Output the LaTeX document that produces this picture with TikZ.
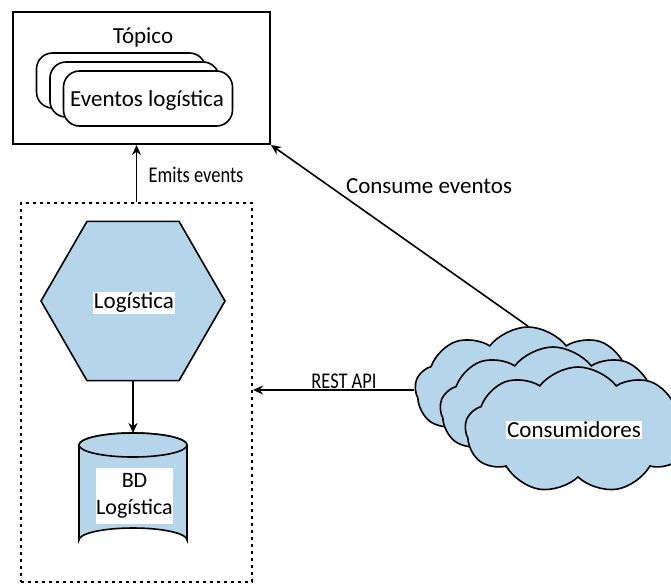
\documentclass[tikz,border=0pt]{standalone}
\usepackage{fontspec}
\setmainfont{Carlito}
\newfontfamily\condfont[FakeStretch=0.82]{Carlito}
\usetikzlibrary{shapes.geometric,shapes.symbols,arrows.meta}
\definecolor{paleblue}{RGB}{180,213,234}
\tikzset{
  every node/.style={font=\fontsize{23}{27}\selectfont},
  arr/.style={line width=1.6pt,-{Stealth[length=10pt,width=9pt]}},
  evbox/.style={draw,line width=1.6pt,fill=white,rounded corners=16pt,minimum width=169pt,minimum height=55pt},
  puff/.style={cloud,cloud puffs=9,cloud puff arc=105,cloud ignores aspect,draw,line width=1.6pt,fill=paleblue,minimum width=226pt,minimum height=126pt,inner sep=0pt},
  tag/.style={fill=white,inner sep=1pt},
  small/.style={font=\condfont\fontsize{22.5}{25}\selectfont},
}
\begin{document}
\begin{tikzpicture}[x=1pt,y=-1pt]
\useasboundingbox (0,0) rectangle (671,584);

% topic box with stacked event cards
\node[draw,line width=2pt,minimum width=257pt,minimum height=132pt,inner sep=0pt] (topic) at (141.5,78) {};
\node (ttl) at (143,37) {Tópico};
\node[evbox] (ev1) at (121,80.5) {};
\node[evbox] (ev2) at (134.5,89.5) {};
\node[evbox] (ev3) at (148,98.5) {};
\node (evl) at (147,100) {Eventos logística};

% service boundary
\node[draw,line width=2pt,dash pattern=on 3pt off 4pt,minimum width=231pt,minimum height=379pt,inner sep=0pt] (svc) at (136.5,392.5) {};

% logistics service
\node[regular polygon,regular polygon sides=6,draw,line width=1.6pt,fill=paleblue,minimum size=184pt,inner sep=0pt] (hex) at (133,301) {};
\node[tag] (hexl) at (134,303) {Logística};

% database cylinder
\coordinate (dbtop) at (133,433);
\draw[line width=1.6pt,fill=paleblue] (79,445) -- (79,540) arc[start angle=180,end angle=360,x radius=54,y radius=12] -- (187,445) arc[start angle=0,end angle=-180,x radius=54,y radius=12] -- cycle;
\draw[line width=1.6pt,fill=paleblue] (133,445) ellipse[x radius=54,y radius=12];
\node[tag,align=center,minimum width=75pt,minimum height=56pt,inner sep=0pt,font=\fontsize{22}{27}\selectfont] (db) at (134.5,496) {BD\\Logística};

% consumers
\node[puff] (cA) at (528,390) {};
\node[puff] (cB) at (553,410) {};
\node[puff] (cC) at (578,430) {};
\node[tag] (cl) at (574,430) {Consumidores};

% connectors
\draw[arr] (svc.north) -- (svc.north |- topic.south);
\node[small,anchor=west] (emit) at (145,175) {Emits events};
\draw[arr] (hex.south) -- (dbtop);
\draw[arr] (cA.north) -- (topic.south east);
\node (cons) at (429,186) {Consume eventos};
\draw[arr] (cA.west) -- (cA.west -| svc.east);
\node[small] (rest) at (344,381) {REST API};
\end{tikzpicture}
\end{document}
